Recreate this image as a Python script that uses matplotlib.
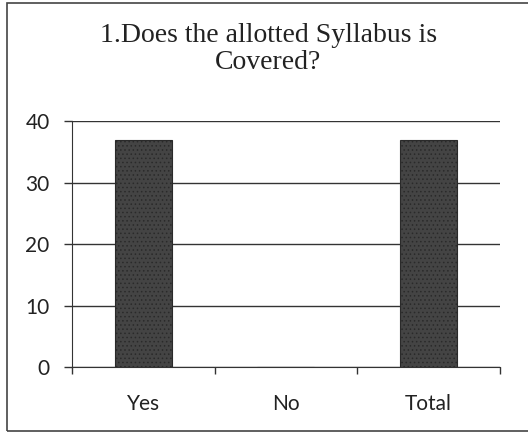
import matplotlib
matplotlib.use("Agg")
import matplotlib.pyplot as plt
from matplotlib.patches import Rectangle

categories = ["Yes", "No", "Total"]
counts = [37, 0, 37]
y_ticks = [0, 10, 20, 30, 40]
title = "1.Does the allotted Syllabus is\nCovered?"

plt.rcParams['hatch.color'] = '#8a8a8a'
plt.rcParams['hatch.linewidth'] = 0.6

fig = plt.figure(figsize=(5.28, 4.34), dpi=100)
ax = fig.add_axes([0.136, 0.154, 0.811, 0.567])

# outer frame of the chart (right edge is cut off in the scan)
fig.patches.append(Rectangle((7 / 528, 1 - 431 / 434), 1.2, (431 - 3) / 434,
                             transform=fig.transFigure, fill=False,
                             edgecolor='#444444', linewidth=1.2))

x = range(len(categories))
ax.bar(x, counts, width=0.4, color='#444444', edgecolor='#2a2a2a',
       linewidth=0.8, hatch='....', zorder=3)

ax.set_xlim(-0.5, len(categories) - 0.5)
ax.set_ylim(0, 40)
ax.set_yticks(y_ticks)
ax.yaxis.grid(True, color='#333333', linewidth=1.0, zorder=0)
ax.set_axisbelow(True)

# category labels centred, tick marks on the category borders
ax.set_xticks([i - 0.5 for i in range(len(categories) + 1)])
ax.set_xticklabels([])
ax.set_xticks(list(x), minor=True)
ax.set_xticklabels(categories, minor=True, fontsize=15, family='Lato',
                   color='#222222')
ax.tick_params(axis='x', which='minor', length=0, pad=19)
ax.tick_params(axis='x', which='major', length=5, width=1, color='#333333')
ax.tick_params(axis='y', length=6, width=1, color='#333333', labelsize=15,
               pad=10, labelcolor='#222222')
for lab in ax.get_yticklabels():
    lab.set_family('Lato')

for s in ['top', 'right']:
    ax.spines[s].set_visible(False)
ax.spines['left'].set_color('#333333')
ax.spines['bottom'].set_color('#333333')

fig.text(0.508, 0.888, title, ha='center', va='center', fontsize=20,
         family='Liberation Serif', color='#222222', linespacing=1.1)

fig.savefig("out.png", dpi=100)
